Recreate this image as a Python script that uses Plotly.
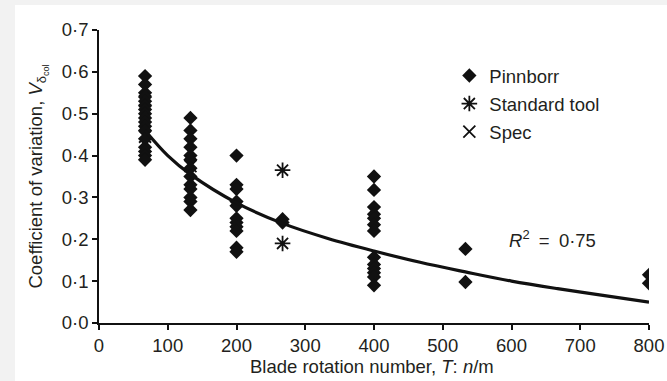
import plotly.graph_objects as go

# Pinnborr measurements
pin_x = ([67] * 17 + [133] * 13 + [200] * 11 + [267] * 2 + [400] * 13 + [533] * 2 + [800] * 2)
pin_y = ([0.59, 0.57, 0.55, 0.54, 0.53, 0.52, 0.51, 0.50, 0.49, 0.48, 0.47, 0.46, 0.44, 0.42, 0.41, 0.40, 0.39]
         + [0.49, 0.46, 0.44, 0.42, 0.40, 0.39, 0.37, 0.35, 0.33, 0.32, 0.30, 0.29, 0.27]
         + [0.40, 0.33, 0.32, 0.29, 0.28, 0.25, 0.24, 0.23, 0.22, 0.18, 0.17]
         + [0.248, 0.240]
         + [0.35, 0.318, 0.277, 0.26, 0.25, 0.235, 0.22, 0.157, 0.14, 0.13, 0.12, 0.11, 0.09]
         + [0.177, 0.098]
         + [0.115, 0.095])

# Standard tool
std_x = [267, 267]
std_y = [0.365, 0.19]

# Spec
spec_x = [67, 67, 133]
spec_y = [0.53, 0.445, 0.375]

# Fitted trend
fit_x = [67, 100, 133, 200, 267, 333, 400, 467, 533, 600, 667, 733, 800]
fit_y = [0.46, 0.40, 0.355, 0.287, 0.238, 0.202, 0.172, 0.145, 0.122, 0.100, 0.082, 0.066, 0.05]

x_ticks = [0, 100, 200, 300, 400, 500, 600, 700, 800]
y_ticks = [0.0, 0.1, 0.2, 0.3, 0.4, 0.5, 0.6, 0.7]
y_ticktext = ["0·0", "0·1", "0·2", "0·3", "0·4", "0·5", "0·6", "0·7"]

FONT = "Liberation Sans, Arial, sans-serif"
TXT = "#231f20"
FS = 18.5

fig = go.Figure()
fig.add_trace(go.Scatter(x=spec_x, y=spec_y, mode="markers", name="Spec",
                         legendgroup="c", legendrank=3,
                         marker=dict(symbol="x-thin-open", size=12, color="#111",
                                     line=dict(width=1.8, color="#111"))))
fig.add_trace(go.Scatter(x=pin_x, y=pin_y, mode="markers", name="Pinnborr",
                         legendgroup="a", legendrank=1,
                         marker=dict(symbol="diamond", size=11, color="#111",
                                     line=dict(width=0))))
fig.add_trace(go.Scatter(x=fit_x, y=fit_y, mode="lines", showlegend=False,
                         line=dict(color="#111", width=3.2, shape="spline")))
fig.add_trace(go.Scatter(x=std_x, y=std_y, mode="markers", name="Standard tool",
                         legendgroup="b", legendrank=2,
                         marker=dict(symbol="asterisk-open", size=13, color="#111",
                                     line=dict(width=1.8, color="#111"))))

W, H = 550, 293
fig.add_shape(type="rect", xref="paper", yref="paper",
              x0=(15 - 99) / W, x1=1.1, y0=-0.3, y1=(323 - 5) / H,
              fillcolor="white", line=dict(width=0), layer="below")

fig.add_annotation(x=593, y=0.2, xref="x", yref="y", xanchor="left", yanchor="middle",
                   text="<i>R</i><sup>2</sup>\u2002=\u20020·75", showarrow=False,
                   font=dict(family=FONT, size=FS, color=TXT))

# x-axis title
fig.add_annotation(x=(372 - 99) / W, y=(323 - 366) / H, xref="paper", yref="paper",
                   xanchor="center", yanchor="middle", showarrow=False,
                   text="Blade rotation number, <i>T</i>: <i>n</i>/m",
                   font=dict(family=FONT, size=FS, color=TXT))

fig.update_layout(
    width=667, height=381,
    margin=dict(l=99, r=18, t=30, b=58),
    paper_bgcolor="#f2f2f2", plot_bgcolor="rgba(0,0,0,0)",
    font=dict(family=FONT, size=FS, color=TXT),
    legend=dict(x=0.637, y=0.908, xanchor="left", yanchor="top",
                bgcolor="rgba(0,0,0,0)", font=dict(family=FONT, size=FS, color=TXT),
                tracegroupgap=1, itemwidth=30),
    xaxis=dict(range=[0, 800], tickvals=x_ticks, showgrid=False, zeroline=False,
               showline=True, linecolor="#111", linewidth=1.5, automargin=False,
               ticks="outside", ticklen=5, tickwidth=1.5, tickcolor="#111",
               tickfont=dict(size=FS)),
    yaxis=dict(range=[0, 0.7], tickvals=y_ticks, ticktext=y_ticktext, showgrid=False,
               zeroline=False, showline=True, linecolor="#111", linewidth=1.5, automargin=False,
               ticks="outside", ticklen=5, tickwidth=1.5, tickcolor="#111",
               tickfont=dict(size=FS),
               title=dict(text="Coefficient of variation, <i>V</i><sub>δ<sub>col</sub></sub>",
                          standoff=14, font=dict(size=FS))),
)

fig.write_html("out.html")
